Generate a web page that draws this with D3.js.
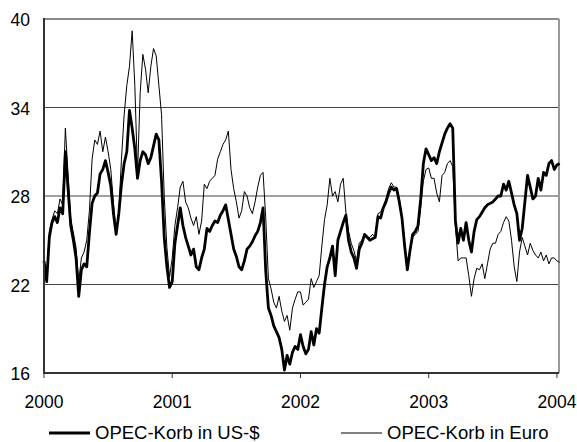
<!DOCTYPE html>
<html>
<head>
<meta charset="utf-8">
<script src="https://cdn.jsdelivr.net/npm/d3@7"></script>
<style>
  body { margin: 0; background: #fff; }
  text { font-family: "Liberation Sans", Arial, sans-serif; fill: #000; }
</style>
</head>
<body>
<svg id="chart" width="577" height="442"></svg>
<script>
// weekly readings (4 per month), Jan 2000 .. early Jan 2004
var usd2000 = [23.6,22.2,25.2,26.2, 26.6,26.2,27.2,26.8, 31.0,28.5,26.0,25.0, 23.8,21.2,23.0,23.4, 23.2,25.5,27.5,28.0, 28.2,29.5,29.8,30.4, 29.6,28.7,26.8,25.4, 26.8,28.8,30.2,31.0, 33.8,32.6,31.2,29.2, 30.4,31.0,30.8,30.2, 30.6,31.4,32.2,31.8, 29.0,25.2,23.2,21.8];
var usd2001 = [22.2,24.8,26.0,27.2, 26.0,25.2,24.6,24.0, 24.4,23.2,23.0,23.8, 24.4,25.8,25.6,26.0, 26.3,26.2,26.7,27.0, 27.4,26.4,25.4,24.4, 23.9,23.2,23.0,23.6, 24.4,24.6,24.9,25.3, 25.6,26.2,27.2,22.9, 20.4,19.9,19.2,18.8, 18.4,17.6,16.2,17.2, 16.6,17.4,17.8,17.6];
var usd2002 = [18.6,17.8,17.3,17.6, 18.8,17.9,19.0,18.7, 20.4,22.0,23.2,23.8, 24.6,22.6,25.0,25.6, 26.2,26.7,25.0,24.2, 23.8,23.1,24.4,24.8, 25.4,25.2,25.0,25.1, 25.2,26.6,26.5,27.2, 27.6,28.2,28.6,28.4, 28.5,27.6,26.5,24.6, 23.0,24.3,25.4,25.6, 26.0,27.8,30.2,31.2];
var usd2003 = [30.8,30.4,30.6,30.2, 31.0,31.6,32.2,32.6, 32.9,32.6,26.3,24.8, 25.8,25.0,26.2,25.0, 24.2,25.6,26.4,26.6, 26.9,27.2,27.4,27.5, 27.6,27.8,28.0,28.0, 28.8,28.4,29.0,28.2, 27.4,26.8,25.0,25.8, 27.6,29.4,28.6,27.8, 28.0,29.2,28.4,29.6, 29.4,30.2,30.4,29.8, 30.1,30.2];

var eur2000 = [23.8,22.5,25.6,26.4, 27.0,26.8,27.8,27.4, 32.6,29.5,26.5,25.5, 24.5,22.2,23.8,24.2, 25.0,27.0,30.5,31.8, 31.5,32.4,31.0,32.0, 31.0,29.8,27.5,25.6, 27.0,30.5,33.5,35.5, 36.8,39.2,35.5,29.5, 35.0,37.6,36.6,35.0, 36.8,38.0,37.5,35.5, 33.5,28.0,24.5,22.5];
var eur2001 = [23.8,26.0,27.2,28.6, 29.0,27.6,27.2,26.5, 26.0,26.6,25.4,26.3, 28.8,28.5,29.0,29.2, 29.4,30.5,31.0,31.5, 31.8,32.4,29.8,28.5, 27.6,26.5,27.0,28.3, 28.0,27.2,26.8,27.6, 28.6,29.4,29.6,26.5, 22.4,21.7,20.8,20.4, 21.2,20.2,19.5,19.9, 18.9,20.4,21.0,21.5];
var eur2002 = [21.5,20.6,20.8,21.0, 22.4,21.8,22.2,22.6, 24.6,26.4,27.4,29.2, 28.0,28.3,27.6,28.8, 29.2,26.9,25.6,24.8, 24.3,23.6,24.8,25.0, 25.3,25.1,25.2,25.4, 25.2,26.8,26.9,27.3, 27.8,28.5,28.9,28.6, 28.6,27.8,26.6,24.8, 23.0,24.2,25.2,25.4, 25.6,27.2,29.0,29.8];
var eur2003 = [29.9,29.2,29.2,28.2, 27.6,29.4,29.6,30.2, 30.4,30.0,26.0,23.6, 23.8,23.8,23.8,22.6, 21.2,22.4,23.1,23.0, 23.4,22.4,23.4,24.4, 24.8,24.8,25.4,25.6, 26.2,26.6,26.3,25.0, 23.2,22.2,24.2,25.2, 24.6,24.0,24.8,24.3, 24.0,23.8,24.2,23.6, 24.0,23.4,23.8,23.8, 23.6,23.5];

var years = [2000, 2001, 2002, 2003, 2004];
var yTicks = [16, 22, 28, 34, 40];
var seriesNames = ["OPEC-Korb in US-$", "OPEC-Korb in Euro"];

var usd = usd2000.concat(usd2001, usd2002, usd2003);
var eur = eur2000.concat(eur2001, eur2002, eur2003);

// position in years: 4 readings per month
function t(i) {
  return 2000 + Math.floor(i / 48) + (Math.floor((i % 48) / 4) + (i % 4) / 4) / 12;
}

var svg = d3.select("#chart");
var x = d3.scaleLinear().domain([2000, 2004.02]).range([44, 559.5]);
var y = d3.scaleLinear().domain([16, 40]).range([373, 19]);

// gridlines
svg.selectAll(".grid").data(yTicks.filter(function(d) { return d > 16 && d < 40; }))
  .enter().append("line")
  .attr("x1", 44).attr("x2", 559)
  .attr("y1", function(d) { return y(d); }).attr("y2", function(d) { return y(d); })
  .attr("stroke", "#444").attr("stroke-width", 1.2);

// top & right border
svg.append("line").attr("x1", 44).attr("x2", 559).attr("y1", y(40)).attr("y2", y(40))
  .attr("stroke", "#8a8a8a").attr("stroke-width", 2);
svg.append("line").attr("x1", 559).attr("x2", 559).attr("y1", y(40)).attr("y2", y(16))
  .attr("stroke", "#999").attr("stroke-width", 2);

var line = d3.line()
  .x(function(d, i) { return x(t(i)); })
  .y(function(d) { return y(d); });

svg.append("path").datum(eur)
  .attr("d", line).attr("fill", "none")
  .attr("stroke", "#000").attr("stroke-width", 1).attr("stroke-linejoin", "round");

svg.append("path").datum(usd)
  .attr("d", line).attr("fill", "none")
  .attr("stroke", "#000").attr("stroke-width", 2.8).attr("stroke-linejoin", "round");

// axes
svg.append("line").attr("x1", 44).attr("x2", 44).attr("y1", y(40) - 1).attr("y2", y(16) + 1)
  .attr("stroke", "#333").attr("stroke-width", 2);
svg.append("line").attr("x1", 43).attr("x2", 559).attr("y1", y(16)).attr("y2", y(16))
  .attr("stroke", "#333").attr("stroke-width", 2);

svg.selectAll(".xtick").data(years).enter().append("line")
  .attr("x1", function(d) { return x(d); }).attr("x2", function(d) { return x(d); })
  .attr("y1", y(16)).attr("y2", y(16) + 5)
  .attr("stroke", "#333").attr("stroke-width", 1);

svg.selectAll(".ylab").data(yTicks).enter().append("text")
  .attr("x", 30).attr("y", function(d) { return y(d) + 7; })
  .attr("text-anchor", "end").attr("font-size", 17.5)
  .text(function(d) { return d; });

svg.selectAll(".xlab").data(years).enter().append("text")
  .attr("x", function(d) { return x(d); })
  .attr("y", 408).attr("text-anchor", "middle").attr("font-size", 17.5)
  .text(function(d) { return d; });

// legend
var legendX = [49, 341];
var legendW = [2.8, 1];
var lg = svg.selectAll(".legend").data(seriesNames).enter().append("g");
lg.append("line")
  .attr("x1", function(d, i) { return legendX[i]; })
  .attr("x2", function(d, i) { return legendX[i] + 41; })
  .attr("y1", 433).attr("y2", 433)
  .attr("stroke", "#000").attr("stroke-width", function(d, i) { return legendW[i]; });
lg.append("text")
  .attr("x", function(d, i) { return legendX[i] + 46; })
  .attr("y", 439).attr("font-size", 18.5)
  .text(function(d) { return d; });
</script>
</body>
</html>
